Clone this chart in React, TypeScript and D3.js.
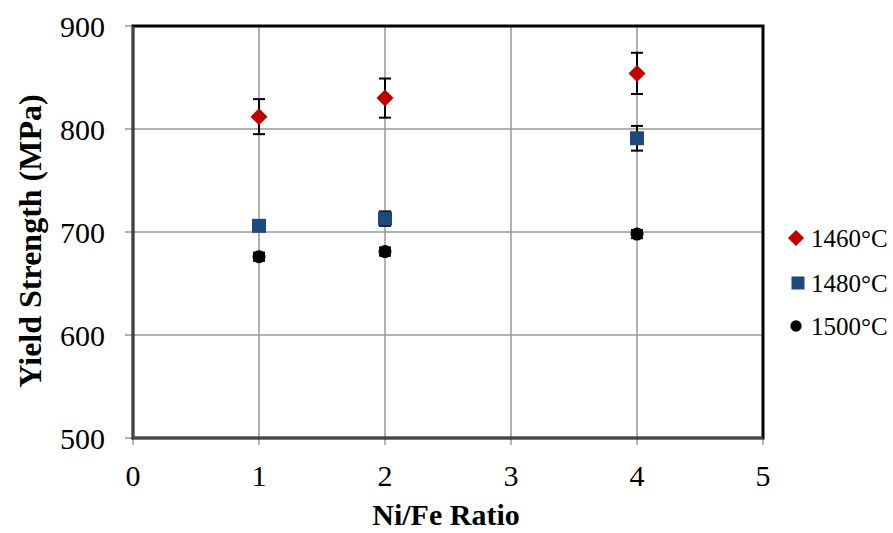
import React from "react";
import * as d3 from "d3";

const ratios = [1, 2, 4];
const ys1460 = [812, 830, 854];
const err1460 = [17, 19, 20];
const ys1480 = [706, 713, 791];
const err1480 = [3, 7, 12];
const ys1500 = [676, 681, 698];
const err1500 = [4, 4, 4];
const xTicks = [0, 1, 2, 3, 4, 5];
const yTicks = [500, 600, 700, 800, 900];
const seriesNames = ["1460°C", "1480°C", "1500°C"];

const W = 893, H = 533;
const L = 133, R = 763, T = 26, B = 438;
const FONT = "'Liberation Serif', 'Times New Roman', Times, serif";

export default function App() {
  const x = d3.scaleLinear().domain([0, 5]).range([L, R]);
  const y = d3.scaleLinear().domain([500, 900]).range([B, T]);
  const series = [
    { name: seriesNames[0], ys: ys1460, err: err1460, shape: "diamond", color: "#C00000" },
    { name: seriesNames[1], ys: ys1480, err: err1480, shape: "square", color: "#1F497D" },
    { name: seriesNames[2], ys: ys1500, err: err1500, shape: "circle", color: "#000000" },
  ];
  const marker = (shape: string, cx: number, cy: number, color: string, s = 1) => {
    if (shape === "diamond") {
      const r = 8.5 * s;
      return <path d={`M${cx},${cy - r}L${cx + r},${cy}L${cx},${cy + r}L${cx - r},${cy}Z`} fill={color} />;
    }
    if (shape === "square") {
      const h = 7 * s;
      return <rect x={cx - h} y={cy - h} width={2 * h} height={2 * h} fill={color} />;
    }
    return <circle cx={cx} cy={cy} r={6.5 * s} fill={color} />;
  };
  const legendPos = [
    { mx: 796, my: 238 },
    { mx: 798, my: 283 },
    { mx: 796, my: 326 },
  ];
  return (
    <svg width={W} height={H} style={{ position: "absolute", left: 0, top: 0, fontFamily: FONT }}>
      <rect width={W} height={H} fill="#fff" />
      {/* gridlines */}
      {xTicks.map((t) => (
        <line key={"gx" + t} x1={x(t)} x2={x(t)} y1={T} y2={B + 7} stroke="#999" strokeWidth={1.5} />
      ))}
      {yTicks.map((t) => (
        <line key={"gy" + t} x1={L - 8} x2={R} y1={y(t)} y2={y(t)} stroke="#999" strokeWidth={1.5} />
      ))}
      {/* frame */}
      <rect x={L} y={T} width={R - L} height={B - T} fill="none" stroke="#000" strokeWidth={3} />
      <line x1={L} x2={L} y1={T} y2={B} stroke="#888" strokeWidth={1} />
      <line x1={L} x2={R} y1={B} y2={B} stroke="#888" strokeWidth={1} />
      {/* tick labels */}
      {yTicks.map((t) => (
        <text key={"ty" + t} x={105} y={y(t) + 11} textAnchor="end" fontSize={30} fill="#000">
          {t}
        </text>
      ))}
      {xTicks.map((t) => (
        <text key={"tx" + t} x={x(t)} y={486} textAnchor="middle" fontSize={30} fill="#000">
          {t}
        </text>
      ))}
      {/* axis titles */}
      <text x={446} y={525} textAnchor="middle" fontSize={30} fontWeight="bold" fill="#000">
        Ni/Fe Ratio
      </text>
      <text transform={`translate(41,241) rotate(-90)`} textAnchor="middle" fontSize={32} fontWeight="bold" fill="#000">
        Yield Strength (MPa)
      </text>
      {/* series */}
      {series.map((s) => (
        <g key={s.name}>
          {ratios.map((r, i) => {
            const cx = x(r);
            const y1 = y(s.ys[i] + s.err[i]);
            const y2 = y(s.ys[i] - s.err[i]);
            return (
              <g key={i}>
                <line x1={cx} x2={cx} y1={y1} y2={y2} stroke="#000" strokeWidth={2} />
                <line x1={cx - 6} x2={cx + 6} y1={y1} y2={y1} stroke="#000" strokeWidth={2} />
                <line x1={cx - 6} x2={cx + 6} y1={y2} y2={y2} stroke="#000" strokeWidth={2} />
                {marker(s.shape, cx, y(s.ys[i]), s.color)}
              </g>
            );
          })}
        </g>
      ))}
      {/* legend */}
      {series.map((s, i) => {
        const p = legendPos[i];
        return (
          <g key={"lg" + i}>
            {marker(s.shape, p.mx, p.my, s.color, i === 0 ? 0.95 : i === 1 ? 0.93 : 0.87)}
            <text x={811} y={p.my + 8.5} fontSize={25} fill="#000">
              {s.name}
            </text>
          </g>
        );
      })}
    </svg>
  );
}
